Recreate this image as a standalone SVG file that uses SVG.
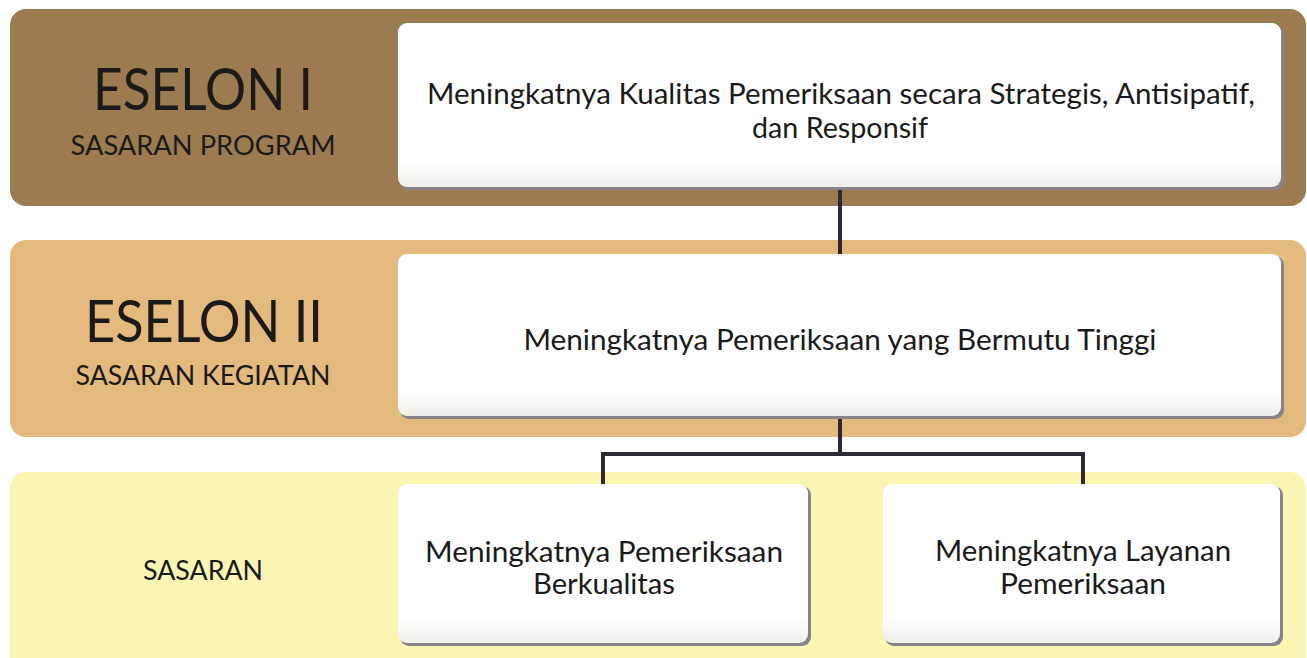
<svg xmlns="http://www.w3.org/2000/svg" width="1307" height="658" viewBox="0 0 1307 658">
<defs>
<style>
.t{font-family:Lato,"Open Sans","Liberation Sans",sans-serif;fill:#1a1a1a;text-anchor:middle}
.big{font-size:58px}
.sub{font-size:27px}
.box{font-size:28px}
.shadow{fill:#86848a}
.conn{fill:none;stroke:#2e2835;stroke-width:4;stroke-linejoin:miter}
</style>
<linearGradient id="cg" x1="0" y1="0" x2="0" y2="1">
<stop offset="0" stop-color="#ffffff"/>
<stop offset="0.85" stop-color="#ffffff"/>
<stop offset="1" stop-color="#f1efe9"/>
</linearGradient>
</defs>
<rect width="1307" height="658" fill="#ffffff"/>
<g id="band1">
<rect x="10" y="9" width="1296" height="197" rx="16" fill="#9d7b50"/>
<text class="t big" x="203" y="110" textLength="220" lengthAdjust="spacingAndGlyphs">ESELON I</text>
<text class="t sub" x="203" y="155" textLength="265" lengthAdjust="spacingAndGlyphs">SASARAN PROGRAM</text>
</g>
<g id="band2">
<rect x="10" y="240" width="1296" height="197" rx="16" fill="#e3b97d"/>
<text class="t big" x="204" y="342" textLength="238" lengthAdjust="spacingAndGlyphs">ESELON II</text>
<text class="t sub" x="203" y="385" textLength="255" lengthAdjust="spacingAndGlyphs">SASARAN KEGIATAN</text>
</g>
<g id="band3">
<rect x="10" y="472" width="1296" height="200" rx="16" fill="#fbf5b4"/>
<text class="t sub" x="203" y="580" textLength="120" lengthAdjust="spacingAndGlyphs">SASARAN</text>
</g>
<g id="connectors">
<path class="conn" d="M840 188 V255"/>
<path class="conn" d="M840 418 V454 M603 486 V454 H1083 V486"/>
</g>
<g id="node1">
<rect class="shadow" x="400" y="25" width="884" height="165" rx="9"/>
<rect x="398" y="23" width="883" height="164" rx="9" fill="url(#cg)"/>
<text class="t box" x="841" y="104" textLength="828" lengthAdjust="spacingAndGlyphs">Meningkatnya Kualitas Pemeriksaan secara Strategis, Antisipatif,</text>
<text class="t box" x="840" y="138" textLength="176" lengthAdjust="spacingAndGlyphs">dan Responsif</text>
</g>
<g id="node2">
<rect class="shadow" x="400" y="256" width="884" height="163" rx="9"/>
<rect x="398" y="254" width="883" height="162" rx="9" fill="url(#cg)"/>
<text class="t box" x="840" y="350" textLength="633" lengthAdjust="spacingAndGlyphs">Meningkatnya Pemeriksaan yang Bermutu Tinggi</text>
</g>
<g id="node3">
<rect class="shadow" x="400" y="486" width="411" height="160" rx="9"/>
<rect x="398" y="484" width="410" height="159" rx="9" fill="url(#cg)"/>
<text class="t box" x="604" y="562" textLength="358" lengthAdjust="spacingAndGlyphs">Meningkatnya Pemeriksaan</text>
<text class="t box" x="604" y="594" textLength="142" lengthAdjust="spacingAndGlyphs">Berkualitas</text>
</g>
<g id="node4">
<rect class="shadow" x="885" y="486" width="398" height="160" rx="9"/>
<rect x="883" y="484" width="397" height="159" rx="9" fill="url(#cg)"/>
<text class="t box" x="1083" y="561" textLength="296" lengthAdjust="spacingAndGlyphs">Meningkatnya Layanan</text>
<text class="t box" x="1083" y="594" textLength="166" lengthAdjust="spacingAndGlyphs">Pemeriksaan</text>
</g>
</svg>
